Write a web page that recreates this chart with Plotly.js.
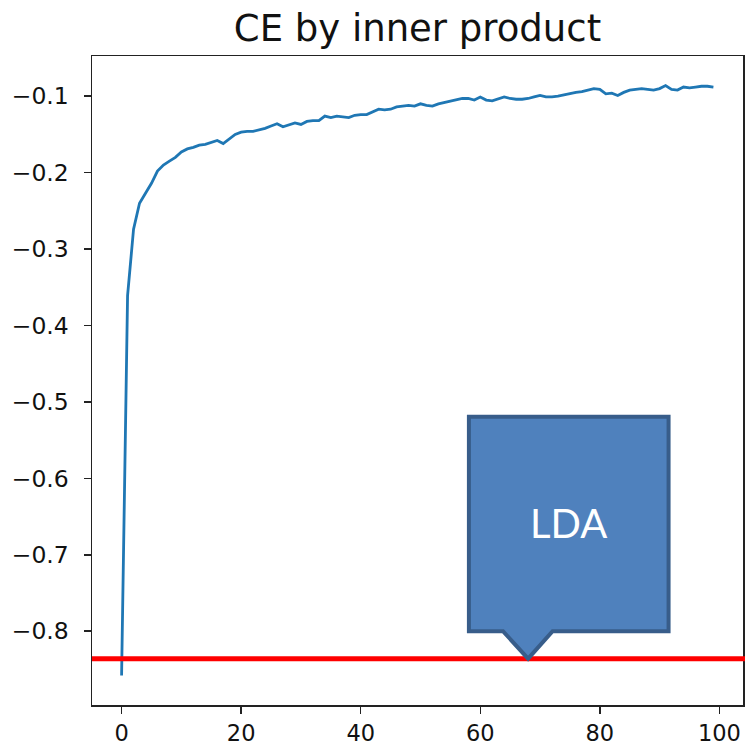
<!DOCTYPE html>
<html>
<head>
<meta charset="utf-8">
<script src="https://cdn.plot.ly/plotly-3.0.1.min.js"></script>
<style>html,body{margin:0;padding:0;background:#fff;}#chart{width:745px;height:745px;}</style>
</head>
<body>
<div id="chart"></div>
<script>
// ---- data ----
const epochs = Array.from({length: 100}, (_, i) => i);
const ceValues = [
  -0.858, -0.361, -0.274, -0.240, -0.227, -0.214, -0.198, -0.190, -0.185, -0.180,
  -0.173, -0.169, -0.167, -0.164, -0.163, -0.160, -0.158, -0.162, -0.156, -0.150,
  -0.147, -0.146, -0.146, -0.144, -0.142, -0.139, -0.136, -0.140, -0.137, -0.135,
  -0.137, -0.133, -0.132, -0.132, -0.126, -0.128, -0.126, -0.127, -0.128, -0.125,
  -0.124, -0.124, -0.120, -0.117, -0.118, -0.117, -0.114, -0.113, -0.112, -0.113,
  -0.110, -0.112, -0.113, -0.110, -0.108, -0.107, -0.105, -0.103, -0.103, -0.105,
  -0.101, -0.105, -0.106, -0.103, -0.101, -0.103, -0.104, -0.104, -0.103, -0.101,
  -0.099, -0.101, -0.101, -0.100, -0.098, -0.096, -0.095, -0.094, -0.092, -0.090,
  -0.091, -0.097, -0.096, -0.099, -0.095, -0.092, -0.091, -0.090, -0.091, -0.092,
  -0.090, -0.086, -0.091, -0.092, -0.088, -0.089, -0.088, -0.087, -0.087, -0.088
];
const ldaValue = -0.836;
const ldaLabel = "LDA";
const titleText = "CE by inner product";
const xTickVals = [0, 20, 40, 60, 80, 100];
const xTickText = ["0", "20", "40", "60", "80", "100"];
const yTickVals = [-0.8, -0.7, -0.6, -0.5, -0.4, -0.3, -0.2, -0.1];
const yTickText = ["\u22120.8", "\u22120.7", "\u22120.6", "\u22120.5", "\u22120.4", "\u22120.3", "\u22120.2", "\u22120.1"];

// ---- axis ranges (matplotlib-style 5% margins) ----
const xmin = Math.min(...epochs), xmax = Math.max(...epochs);
const xm = (xmax - xmin) * 0.05;
const ymin = Math.min(...ceValues), ymax = Math.max(...ceValues);
const ym = (ymax - ymin) * 0.05;

// ---- callout geometry (in data units, placed relative to the LDA line) ----
const box = {x0: 58.1, x1: 91.5, top: -0.5195, bottom: -0.800, px0: 63.8, px1: 72.1, tip: 68.0};
const calloutPath =
  `M ${box.x0},${box.top} L ${box.x1},${box.top} L ${box.x1},${box.bottom} ` +
  `L ${box.px1},${box.bottom} L ${box.tip},${ldaValue} L ${box.px0},${box.bottom} ` +
  `L ${box.x0},${box.bottom} Z`;

const yTickFont = {family: "DejaVu Sans", size: 23.5, color: "#111"};
const xTickFont = {family: "DejaVu Sans", size: 22.5, color: "#111"};

const traces = [{
  x: epochs, y: ceValues, type: "scatter", mode: "lines",
  line: {color: "#1f77b4", width: 2.8}, hoverinfo: "skip"
}];

const layout = {
  width: 745, height: 745,
  margin: {l: 92, r: 2, t: 56, b: 40, pad: 0},
  paper_bgcolor: "#fff", plot_bgcolor: "#fff",
  showlegend: false,
  title: {
    text: titleText, font: {family: "DejaVu Sans", size: 37, color: "#111"},
    x: 0.5, xref: "paper", xanchor: "center", y: 1 - 28/745, yref: "container", yanchor: "middle"
  },
  xaxis: {
    range: [xmin - xm, xmax + xm], tickmode: "array", tickvals: xTickVals, ticktext: xTickText,
    ticks: "outside", ticklen: 7, tickwidth: 1.5, tickcolor: "#222",
    showline: true, linecolor: "#222", linewidth: 1.5, mirror: true,
    showgrid: false, zeroline: false, tickfont: xTickFont, ticklabelstandoff: 0
  },
  yaxis: {
    range: [ymin - ym, ymax + ym], tickmode: "array", tickvals: yTickVals, ticktext: yTickText,
    ticks: "outside", ticklen: 7, tickwidth: 1.5, tickcolor: "#222",
    showline: true, linecolor: "#222", linewidth: 1.5, mirror: true,
    showgrid: false, zeroline: false, tickfont: yTickFont, ticklabelstandoff: 10
  },
  shapes: [
    {type: "line", xref: "paper", yref: "y", x0: 0, x1: 1.004, y0: ldaValue, y1: ldaValue,
     line: {color: "#ff0000", width: 5}, layer: "above"},
    {type: "path", xref: "x", yref: "y", path: calloutPath,
     fillcolor: "#4f81bd", line: {color: "#385d8a", width: 4}, layer: "above"}
  ],
  annotations: [{
    x: (box.x0 + box.x1) / 2, y: -0.659, xref: "x", yref: "y", text: ldaLabel, showarrow: false,
    font: {family: "Lato", size: 40, color: "#fff"}, xanchor: "center", yanchor: "middle"
  }]
};

Plotly.newPlot("chart", traces, layout, {staticPlot: true, displayModeBar: false});
</script>
</body>
</html>
